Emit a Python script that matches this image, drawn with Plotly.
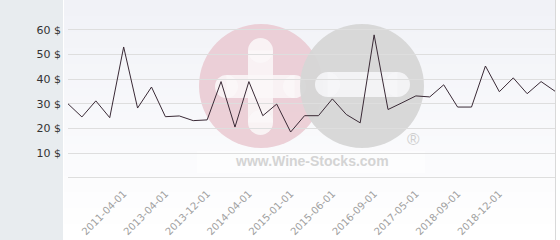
import plotly.graph_objects as go

# ---- data ----
prices = [30.0, 24.7, 31.2, 24.4, 53.0, 28.3, 36.8, 24.8, 25.1, 23.2, 23.5, 39.0,
          20.6, 39.0, 25.2, 29.9, 18.6, 25.2, 25.2, 32.0, 25.7, 22.3, 57.9, 27.7,
          30.4, 33.2, 32.8, 37.7, 28.7, 28.7, 45.3, 34.9, 40.5, 34.1, 39.0, 35.1]
label_index = [4, 7, 10, 13, 16, 19, 22, 25, 28, 31]
date_labels = ["2011-04-01", "2013-04-01", "2013-12-01", "2014-04-01", "2015-01-01",
               "2015-06-01", "2016-09-01", "2017-05-01", "2018-09-01", "2018-12-01"]
y_ticks = [0, 10, 20, 30, 40, 50, 60]
y_labels = ["", "10 $", "20 $", "30 $", "40 $", "50 $", "60 $"]

x_idx = list(range(len(prices)))

# ---- geometry helpers (pixel -> paper) ----
W, H = 560, 240
L, R, T, B = 68, 5, 0, 62
PW, PH = W - L - R, H - T - B


def px(x):
    return (x - L) / PW


def py(y):
    return (T + PH - y) / PH


shapes = []

# left grey panel
shapes.append(dict(type="rect", xref="paper", yref="paper", layer="below",
                   x0=px(0), x1=px(63), y0=py(H), y1=py(0),
                   fillcolor="#e8ecef", line_width=0))
# gradient background of plot panel (bands)
top = (241, 242, 247)
bot = (255, 255, 255)
n = 30
for i in range(n):
    t = i / (n - 1)
    c = tuple(round(top[k] + (bot[k] - top[k]) * t) for k in range(3))
    y0 = i * H / n
    y1 = (i + 1) * H / n
    shapes.append(dict(type="rect", xref="paper", yref="paper", layer="below",
                       x0=px(64), x1=px(555), y0=py(y1), y1=py(y0),
                       fillcolor="rgb(%d,%d,%d)" % c, line_width=0))
# right border line
shapes.append(dict(type="line", xref="paper", yref="paper", layer="below",
                   x0=px(555.5), x1=px(555.5), y0=py(H), y1=py(0),
                   line=dict(color="#d9d9d9", width=1)))
# baseline grid line at the bottom of the plot area (value 0)
shapes.append(dict(type="line", xref="paper", yref="paper", layer="between",
                   x0=0, x1=1, y0=py(177.5), y1=py(177.5),
                   line=dict(color="#dedede", width=1)))


def circle(cx, cy, r, color, op):
    return dict(type="circle", xref="paper", yref="paper", layer="between",
                x0=px(cx - r), x1=px(cx + r), y0=py(cy + r), y1=py(cy - r),
                fillcolor=color, line_width=0, opacity=op)


def rect(x0, y0, x1, y1, color, op):
    return dict(type="rect", xref="paper", yref="paper", layer="between",
                x0=px(x0), x1=px(x1), y0=py(y1), y1=py(y0),
                fillcolor=color, line_width=0, opacity=op)


def pill_h(x0, x1, yc, h, color, op):
    r = h / 2
    return [rect(x0 + r, yc - r, x1 - r, yc + r, color, op),
            circle(x0 + r, yc, r, color, op), circle(x1 - r, yc, r, color, op)]


def pill_v(xc, y0, y1, w, color, op):
    r = w / 2
    return [rect(xc - r, y0 + r, xc + r, y1 - r, color, op),
            circle(xc, y0 + r, r, color, op), circle(xc, y1 - r, r, color, op)]


OP = 0.88
# watermark
shapes.append(rect(197, 151, 425, 173, "white", 0.45))
shapes.append(circle(261, 86, 62, "#e9c9d1", OP))
shapes += pill_v(260.5, 38, 135, 25, "#fbf7f8", OP)
shapes += pill_h(215, 306, 86.5, 23, "#fbf7f8", OP)
shapes.append(circle(362, 86, 62, "#d6d6d6", 0.95))
shapes += pill_h(315, 410, 84.5, 25, "#f6f6f8", OP)

annotations = [
    dict(text="www.Wine-Stocks.com", xref="paper", yref="paper",
         x=px(312), y=py(161), xanchor="center", yanchor="middle", showarrow=False,
         font=dict(family="Liberation Sans", size=14, color="#d4d4d4", weight="bold")),
    dict(text="®", xref="paper", yref="paper",
         x=px(413), y=py(139), xanchor="center", yanchor="middle", showarrow=False,
         font=dict(family="Liberation Sans", size=17, color="#cfcfcf")),
]

fig = go.Figure()
fig.add_trace(go.Scatter(x=x_idx, y=prices, mode="lines",
                         line=dict(color="#3a2a36", width=1), hoverinfo="skip"))

fig.update_layout(
    width=W, height=H, margin=dict(l=L, r=R, t=T, b=B),
    paper_bgcolor="white", plot_bgcolor="rgba(0,0,0,0)",
    showlegend=False, shapes=shapes, annotations=annotations,
    font=dict(family="DejaVu Sans"),
)
fig.update_xaxes(range=[0, len(prices) - 1], tickmode="array", tickvals=label_index,
                 ticktext=date_labels, tickangle=-45, showgrid=False, zeroline=False,
                 showline=False, ticks="", ticklabelstandoff=7,
                 tickfont=dict(family="DejaVu Sans", size=10, color="#a0a0a0"))
fig.update_yaxes(range=[0, 72.0], tickmode="array", tickvals=y_ticks, ticktext=y_labels,
                 showgrid=True, gridcolor="#dedede", gridwidth=1, zeroline=False,
                 showline=False, ticks="", ticklabelstandoff=6,
                 tickfont=dict(family="DejaVu Sans", size=11, color="#333333"))

fig.write_html("out.html")
